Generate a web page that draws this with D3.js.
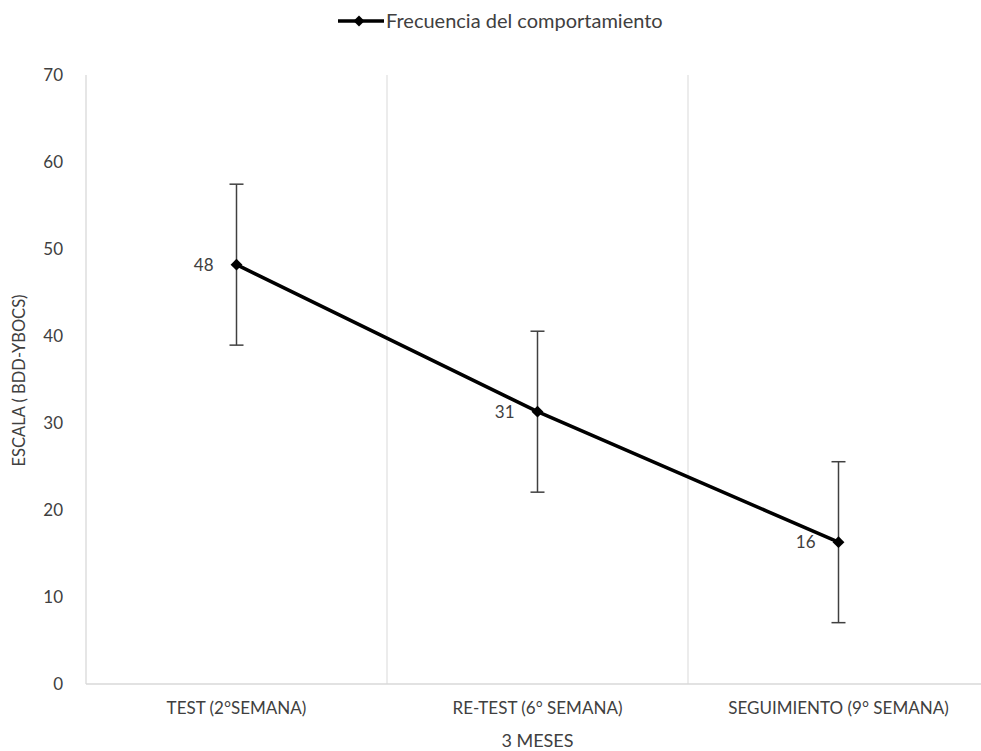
<!DOCTYPE html>
<html><head><meta charset="utf-8">
<script src="https://cdn.jsdelivr.net/npm/d3@7"></script>
<style>
body{margin:0;background:#fff;}
text{font-family:Lato,"Open Sans",sans-serif;}
</style></head>
<body><svg id="c" width="981" height="751"></svg>
<script>
const categories = ["TEST (2°SEMANA)", "RE-TEST (6° SEMANA)", "SEGUIMIENTO (9° SEMANA)"];
const values = [48.2, 31.3, 16.3];
const errors = [9.25, 9.25, 9.25];
const dataLabels = ["48", "31", "16"];
const yTicks = [0, 10, 20, 30, 40, 50, 60, 70];
const seriesName = "Frecuencia del comportamiento";
const xTitle = "3 MESES";
const yTitle = "ESCALA ( BDD-YBOCS)";

(function () {
const svg = d3.select("#c");
const pl = 86, pr = 989, pt = 75, pb = 684;
const x = d3.scaleBand().domain(categories).range([pl, pr]);
const y = d3.scaleLinear().domain([0, 70]).range([pb, pt]);

svg.append("g").selectAll("line").data(categories.slice(1)).join("line")
  .attr("x1", d => x(d)).attr("x2", d => x(d))
  .attr("y1", pt).attr("y2", pb)
  .attr("stroke", "#d9d9d9").attr("stroke-width", 1);

svg.append("line").attr("x1", pl).attr("x2", 981).attr("y1", pb).attr("y2", pb)
  .attr("stroke", "#d9d9d9").attr("stroke-width", 1.3);
svg.append("line").attr("x1", pl).attr("x2", pl).attr("y1", pt).attr("y2", pb)
  .attr("stroke", "#d9d9d9").attr("stroke-width", 1.3);

svg.append("g").selectAll("text").data(yTicks).join("text")
  .attr("x", 63).attr("y", d => y(d)).attr("dy", "0.35em")
  .attr("text-anchor", "end").attr("font-size", 17).attr("fill", "#404040")
  .text(d => d);

svg.append("g").selectAll("text").data(categories).join("text")
  .attr("x", d => x(d) + x.bandwidth() / 2).attr("y", 714)
  .attr("text-anchor", "middle").attr("font-size", 17).attr("fill", "#404040")
  .text(d => d);

svg.append("text").attr("x", x(categories[1]) + x.bandwidth() / 2).attr("y", 747)
  .attr("text-anchor", "middle").attr("font-size", 18).attr("fill", "#404040").text(xTitle);
svg.append("text").attr("transform", `translate(25,${(pt + pb) / 2 + 1}) rotate(-90)`)
  .attr("text-anchor", "middle").attr("font-size", 16.5).attr("fill", "#404040").text(yTitle);

const cx = d => x(d) + x.bandwidth() / 2;

const eb = svg.append("g").attr("stroke", "#404040").attr("stroke-width", 1.5);
categories.forEach((c, i) => {
  const X = cx(c);
  eb.append("line").attr("x1", X).attr("x2", X).attr("y1", y(values[i] + errors[i])).attr("y2", y(values[i] - errors[i]));
  [values[i] + errors[i], values[i] - errors[i]].forEach(v => {
    eb.append("line").attr("x1", X - 7).attr("x2", X + 7).attr("y1", y(v)).attr("y2", y(v));
  });
});

const line = d3.line().x((d, i) => cx(categories[i])).y(d => y(d));
svg.append("path").datum(values).attr("d", line)
  .attr("fill", "none").attr("stroke", "#000").attr("stroke-width", 3.5);

svg.append("g").selectAll("path").data(values).join("path")
  .attr("d", d3.symbol().type(d3.symbolSquare).size(70))
  .attr("transform", (d, i) => `translate(${cx(categories[i])},${y(d)}) rotate(45)`)
  .attr("fill", "#000");

svg.append("g").selectAll("text").data(values).join("text")
  .attr("x", (d, i) => cx(categories[i]) - 23).attr("y", d => y(d)).attr("dy", "0.35em")
  .attr("text-anchor", "end").attr("font-size", 17).attr("fill", "#404040")
  .text((d, i) => dataLabels[i]);

const lg = svg.append("g");
lg.append("line").attr("x1", 338).attr("x2", 384).attr("y1", 21).attr("y2", 21)
  .attr("stroke", "#000").attr("stroke-width", 3.5);
lg.append("path").attr("d", d3.symbol().type(d3.symbolSquare).size(60))
  .attr("transform", "translate(359,21) rotate(45)").attr("fill", "#000");
lg.append("text").attr("x", 386).attr("y", 21).attr("dy", "0.35em")
  .attr("font-size", 20).attr("fill", "#404040").text(seriesName);
})();
</script></body></html>
